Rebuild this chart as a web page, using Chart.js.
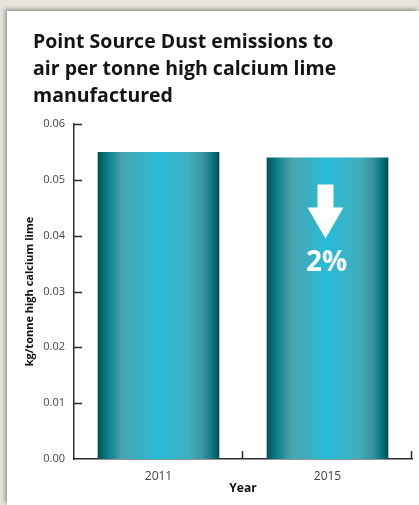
<!DOCTYPE html>
<html><head><meta charset="utf-8">
<script src="https://cdn.jsdelivr.net/npm/chart.js@4"></script>
<style>
html,body{margin:0;padding:0;width:419px;height:505px;overflow:hidden;background:#e7e3dd;}
#card{position:absolute;left:7px;top:11px;width:412px;height:494px;background:#fff;box-shadow:-2px -2px 4px rgba(0,0,0,0.35);}
canvas{display:block;}
</style></head>
<body>
<div id="card"><canvas id="c" width="412" height="494"></canvas></div>
<script>
const categories = ['2011', '2015'];
const dustValues = [0.055, 0.054];
const yTicks = [0, 0.01, 0.02, 0.03, 0.04, 0.05, 0.06];
const titleLines = ['Point Source Dust emissions to', 'air per tonne high calcium lime', 'manufactured'];
const changeLabel = '2%';

const BAR_PCT = 0.72;
const FONT = "'Open Sans', 'Noto Sans', sans-serif";

function barGradient(c) {
  const chart = c.chart;
  const xs = chart.scales.x;
  if (!chart.chartArea || !xs) return '#27bcd6';
  const cx = xs.getPixelForValue(c.dataIndex);
  const w = (xs.width / categories.length) * BAR_PCT;
  const g = chart.ctx.createLinearGradient(cx - w / 2, 0, cx + w / 2, 0);
  g.addColorStop(0.00, '#004e56');
  g.addColorStop(0.08, '#0a7f89');
  g.addColorStop(0.20, '#4aa2ad');
  g.addColorStop(0.50, '#27bdd8');
  g.addColorStop(0.76, '#40adbc');
  g.addColorStop(0.87, '#3a929e');
  g.addColorStop(0.94, '#0b7780');
  g.addColorStop(1.00, '#004c54');
  return g;
}

const axisTicks = {
  id: 'axisTicks',
  afterDraw(chart) {
    const {ctx, chartArea} = chart;
    const xs = chart.scales.x, ys = chart.scales.y;
    ctx.save();
    ctx.strokeStyle = '#2b2b2b';
    ctx.lineWidth = 1.5;
    ctx.beginPath();
    yTicks.forEach(v => {
      const y = Math.round(ys.getPixelForValue(v)) + 0.5;
      if (v === 0) return;
      ctx.moveTo(chartArea.left, y);
      ctx.lineTo(chartArea.left + 8, y);
    });
    for (let i = 0; i < categories.length; i++) {
      const x = i < categories.length - 1
        ? (xs.getPixelForValue(i) + xs.getPixelForValue(i + 1)) / 2
        : chartArea.right;
      const xr = Math.round(x) - 0.5;
      ctx.moveTo(xr, chartArea.bottom);
      ctx.lineTo(xr, chartArea.bottom - 8);
    }
    ctx.stroke();
    ctx.restore();
  }
};

const changeArrow = {
  id: 'changeArrow',
  afterDatasetsDraw(chart) {
    const el = chart.getDatasetMeta(0).data[1];
    if (!el) return;
    const {ctx} = chart;
    const cx = el.x - 2;
    const top = el.y + 27;
    ctx.save();
    ctx.fillStyle = '#ffffff';
    ctx.beginPath();
    ctx.moveTo(cx - 8, top);
    ctx.lineTo(cx + 8, top);
    ctx.lineTo(cx + 8, top + 23);
    ctx.lineTo(cx + 18, top + 23);
    ctx.lineTo(cx, top + 54);
    ctx.lineTo(cx - 18, top + 23);
    ctx.lineTo(cx - 8, top + 23);
    ctx.closePath();
    ctx.fill();
    ctx.font = "bold 28px " + FONT;
    ctx.textAlign = 'center';
    ctx.textBaseline = 'alphabetic';
    ctx.fillText(changeLabel, cx + 1, top + 86);
    ctx.restore();
  }
};

new Chart(document.getElementById('c'), {
  type: 'bar',
  data: {
    labels: categories,
    datasets: [{
      label: 'Point source dust (kg/tonne)',
      data: dustValues,
      backgroundColor: barGradient,
      borderWidth: 0,
      barPercentage: BAR_PCT,
      categoryPercentage: 1
    }]
  },
  options: {
    responsive: false,
    animation: false,
    layout: {padding: {left: 26, right: 7, top: 0, bottom: 0}},
    plugins: {
      legend: {display: false},
      tooltip: {enabled: false},
      title: {
        display: true,
        text: titleLines,
        align: 'start',
        color: '#141414',
        font: {family: FONT, size: 19.5, weight: 'bold', lineHeight: '27px'},
        padding: {top: 18, bottom: 14}
      }
    },
    scales: {
      x: {
        grid: {display: false, drawTicks: false},
        border: {display: true, color: '#2b2b2b', width: 1.5},
        ticks: {color: '#444', font: {family: FONT, size: 12}, padding: 10},
        title: {display: true, text: 'Year', color: '#111', font: {family: FONT, size: 12, weight: 'bold'}, padding: {top: 0, bottom: 9}},
        afterFit(s) { s.height = 46; }
      },
      y: {
        min: 0, max: 0.06,
        grid: {display: false, drawTicks: false},
        border: {display: true, color: '#2b2b2b', width: 1.5},
        ticks: {stepSize: 0.01, color: '#444', font: {family: FONT, size: 11}, padding: 9,
          callback: v => v.toFixed(2)},
        title: {display: true, text: 'kg/tonne high calcium lime', color: '#111', font: {family: FONT, size: 11, weight: 'bold'}, padding: {top: -9.6, bottom: 0}},
        afterFit(s) { s.width = 41; }
      }
    }
  },
  plugins: [axisTicks, changeArrow]
});
</script>
</body></html>
